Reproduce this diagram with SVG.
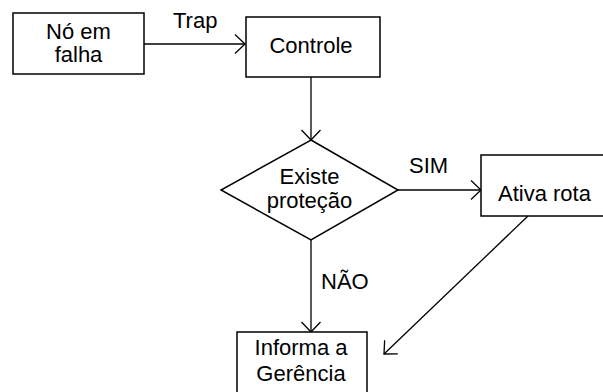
<svg xmlns="http://www.w3.org/2000/svg" width="603" height="392" viewBox="0 0 603 392">
<style>
.box{fill:#fff;stroke:#000;stroke-width:1.5}
.t{font-family:"Liberation Sans",Arial,sans-serif;font-size:22px;fill:#000;text-anchor:middle}
.l{font-family:"Liberation Sans",Arial,sans-serif;font-size:22px;fill:#000}
.c{fill:none;stroke:#000;stroke-width:1.3}
</style>
<defs>
<marker id="a" markerWidth="16" markerHeight="24" refX="12" refY="11" orient="auto" markerUnits="userSpaceOnUse">
<path d="M2,1.5 L12,11 L2,20.5" fill="none" stroke="#000" stroke-width="1.3"/>
</marker>
</defs>
<g id="connectors">
<line class="c" x1="144" y1="44" x2="245" y2="44" marker-end="url(#a)"/>
<line class="c" x1="311" y1="77" x2="311" y2="140" marker-end="url(#a)"/>
<line class="c" x1="398" y1="190" x2="481" y2="190" marker-end="url(#a)"/>
<line class="c" x1="311" y1="240" x2="311" y2="332" marker-end="url(#a)"/>
<line class="c" x1="528" y1="216" x2="384" y2="354" marker-end="url(#a)"/>
<text class="l" x="173" y="28">Trap</text>
<text class="l" x="409" y="173">SIM</text>
<text class="l" x="321" y="289">NÃO</text>
</g>
<g id="falha">
<rect class="box" x="13" y="13" width="131" height="61"/>
<text class="t" x="78.5" y="39">Nó em</text>
<text class="t" x="78.5" y="62">falha</text>
</g>
<g id="controle">
<rect class="box" x="246" y="17" width="134" height="60"/>
<text class="t" x="311" y="53">Controle</text>
</g>
<g id="existe">
<polygon class="box" points="311,140 398,190 311,240 221,190"/>
<text class="t" x="309.5" y="184">Existe</text>
<text class="t" x="309.5" y="208">proteção</text>
</g>
<g id="ativa">
<rect class="box" x="481" y="155" width="140" height="61"/>
<text class="l" x="498" y="201">Ativa rota</text>
</g>
<g id="informa">
<rect class="box" x="237" y="332" width="130" height="70"/>
<text class="t" x="301" y="355">Informa a</text>
<text class="t" x="301" y="381">Gerência</text>
</g>
</svg>
